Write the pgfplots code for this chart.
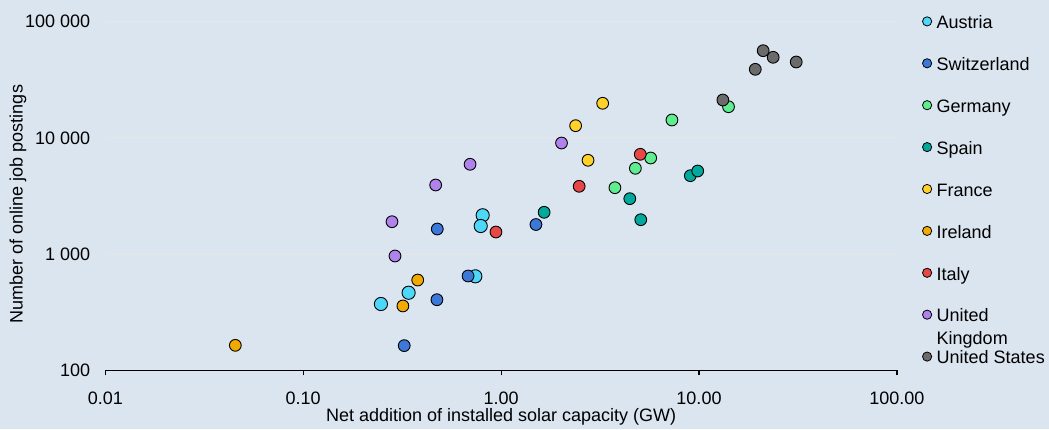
\documentclass[border=0pt]{standalone}
\usepackage{pgfplots}
\pgfplotsset{compat=1.18}
\usepackage{fontspec}
\setmainfont{Liberation Sans}
\definecolor{bg}{HTML}{DBE5F0}
\definecolor{gridc}{HTML}{E6E6E6}
\definecolor{cAT}{HTML}{4DD8FA}
\definecolor{cCH}{HTML}{3B78D8}
\definecolor{cDE}{HTML}{5FEE8F}
\definecolor{cES}{HTML}{00A99B}
\definecolor{cFR}{HTML}{FFD12A}
\definecolor{cIE}{HTML}{F2A900}
\definecolor{cIT}{HTML}{E84747}
\definecolor{cUK}{HTML}{B083EC}
\definecolor{cUS}{HTML}{6B6B6B}
\newcommand{\fs}{\fontsize{18}{23}\selectfont}
\newcommand{\st}{\rule[-6.9pt]{0pt}{23pt}}
\begin{document}
\begin{tikzpicture}[x=1pt,y=1pt]
\fill[bg] (0,0) rectangle (1049,429);
\useasboundingbox (0,0) rectangle (1049,429);
\begin{axis}[
  at={(105.3pt,58.7pt)}, anchor=south west,
  scale only axis, width=791.6pt, height=348.6pt,
  xmode=log, ymode=log,
  xmin=0.01, xmax=100, ymin=100, ymax=100000,
  axis x line*=bottom, axis y line*=left,
  y axis line style={draw=none},
  x axis line style={black, line width=1.2pt},
  xminorticks=false, yminorticks=false,
  xtick={0.01,0.1,1,10,100},
  xticklabels={0.01,0.10,1.00,10.00,100.00},
  ytick={100,1000,10000,100000},
  yticklabels={100,1 000,10 000,100 000},
  tick align=outside, major tick length=5pt,
  xtick style={black, line width=1.2pt},
  ytick style={draw=none},
  ymajorgrids, grid style={gridc, line width=1pt},
  tick label style={font=\fs},
  yticklabel style={anchor=east, inner sep=0pt, xshift=-10pt},
  xticklabel style={anchor=base, inner sep=0pt, yshift=-29.7pt},
  xlabel={Net addition of installed solar capacity (GW)},
  ylabel={Number of online job postings},
  every axis x label/.style={at={(axis description cs:0.5,-0.1483)}, anchor=base, font=\fs},
  every axis y label/.style={at={(axis description cs:-0.1103,0.477)}, anchor=center, rotate=90, font=\fs},
  legend style={at={(1.0321,1.0267)}, anchor=north west, draw=none, fill=none,
    inner sep=0pt, row sep=24.3pt, font=\fs,
    nodes={inner sep=0pt},
    /tikz/every odd column/.append style={column sep=5pt}},
  legend cell align=left,
  legend image code/.code={\draw[#1, mark size=4.6pt, line width=0.8pt] plot coordinates {(0pt,0pt)};},
  every axis plot/.append style={only marks, mark=*, mark size=5.9pt, line width=0.9pt},
]
\addplot[mark options={fill=cAT, draw=black}, mark size=6.6pt] coordinates {
(0.247,372) (0.341,465) (0.807,2158) (0.789,1745) (0.741,644)};
\addlegendentry{\st Austria}
\addplot[mark options={fill=cCH, draw=black}] coordinates {
(0.476,1644) (0.324,163) (0.474,405) (0.681,648) (1.50,1797)};
\addlegendentry{\st Switzerland}
\addplot[mark options={fill=cDE, draw=black}] coordinates {
(7.30,14260) (5.70,6714) (4.77,5475) (3.76,3727) (14.1,18550)};
\addlegendentry{\st Germany}
\addplot[mark options={fill=cES, draw=black}] coordinates {
(1.65,2289) (4.47,2998) (5.08,1977) (9.04,4728) (9.85,5189)};
\addlegendentry{\st Spain}
\addplot[mark options={fill=cFR, draw=black}] coordinates {
(3.26,19860) (2.38,12740) (2.75,6417)};
\addlegendentry{\st France}
\addplot[mark options={fill=cIE, draw=black}] coordinates {
(0.0454,164) (0.319,358) (0.379,598)};
\addlegendentry{\st Ireland}
\addplot[mark options={fill=cIT, draw=black}] coordinates {
(0.942,1549) (2.48,3832) (5.05,7224)};
\addlegendentry{\st Italy}
\addplot[mark options={fill=cUK, draw=black}] coordinates {
(0.281,1900) (0.291,963) (0.467,3932) (0.697,5928) (2.02,9036)};
\addlegendentry{\st\smash{\begin{tabular}[t]{@{}l@{}}United\\[0pt]Kingdom\end{tabular}}}
\addplot[mark options={fill=cUS, draw=black}] coordinates {
(21.1,56290) (23.7,49390) (19.25,38920) (31.0,45000) (13.2,21190)};
\addlegendentry{\st United States}
\end{axis}
\end{tikzpicture}
\end{document}
